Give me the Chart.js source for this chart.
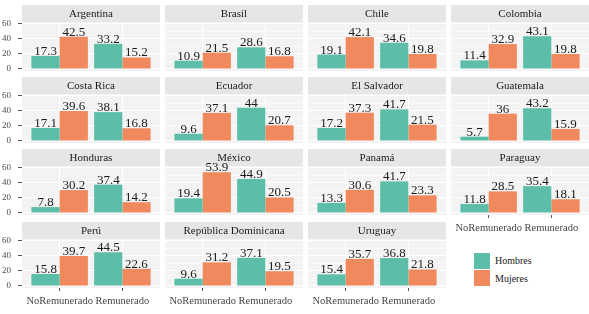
<!DOCTYPE html>
<html>
<head>
<meta charset="utf-8">
<script src="https://cdn.jsdelivr.net/npm/chart.js@4.4.1/dist/chart.umd.min.js"></script>
<style>
  body { margin: 0; background: #fff; }
  #wrap { position: relative; width: 589px; height: 314px; overflow: hidden; }
  canvas { position: absolute; }
  .key { position: absolute; left: 474px; width: 16px; height: 16px; }
  .lab { position: absolute; left: 495px; font: 10px "Liberation Serif", "DejaVu Serif", serif; color: #1a1a1a; }
</style>
</head>
<body>
<div id="wrap">
  <div class="key" style="top:253px;background:#5cbea9"></div>
  <div class="key" style="top:270px;background:#f0895e"></div>
  <div class="lab" style="top:255px">Hombres</div>
  <div class="lab" style="top:273px">Mujeres</div>
</div>
<script>
const categories = ["NoRemunerado", "Remunerado"];
const countries = ["Argentina", "Brasil", "Chile", "Colombia", "Costa Rica", "Ecuador",
  "El Salvador", "Guatemala", "Honduras", "México", "Panamá", "Paraguay",
  "Perú", "República Dominicana", "Uruguay"];
const hombresNoRem = [17.3, 10.9, 19.1, 11.4, 17.1, 9.6, 17.2, 5.7, 7.8, 19.4, 13.3, 11.8, 15.8, 9.6, 15.4];
const hombresRem   = [33.2, 28.6, 34.6, 43.1, 38.1, 44, 41.7, 43.2, 37.4, 44.9, 41.7, 35.4, 44.5, 37.1, 36.8];
const mujeresNoRem = [42.5, 21.5, 42.1, 32.9, 39.6, 37.1, 37.3, 36, 30.2, 53.9, 30.6, 28.5, 39.7, 31.2, 35.7];
const mujeresRem   = [15.2, 16.8, 19.8, 19.8, 16.8, 20.7, 21.5, 15.9, 14.2, 20.5, 23.3, 18.1, 22.6, 19.5, 21.8];
const seriesNames = ["Hombres", "Mujeres"];

const serif = '"Liberation Serif", "DejaVu Serif", serif';
const stripTops = [5, 77, 149, 222];
const bottomPanels = [11, 12, 13, 14];

// panel background + strip with country name
const stripPlugin = {
  id: "strip",
  beforeDraw(chart, args, opts) {
    const { ctx, chartArea: a } = chart;
    ctx.save();
    ctx.fillStyle = "#f3f3f3";
    ctx.fillRect(a.left, a.top, a.right - a.left, a.bottom - a.top);
    ctx.fillStyle = "#e6e6e6";
    ctx.fillRect(a.left, 0, a.right - a.left, a.top);
    ctx.fillStyle = "#1a1a1a";
    ctx.font = "11px " + serif;
    ctx.textAlign = "center";
    ctx.textBaseline = "middle";
    ctx.fillText(opts.title, (a.left + a.right) / 2, a.top / 2 + 0.5);
    ctx.restore();
  },
};

const valuePlugin = {
  id: "values",
  afterDatasetsDraw(chart) {
    const { ctx } = chart;
    ctx.save();
    ctx.font = "13px " + serif;
    ctx.fillStyle = "#1a1a1a";
    ctx.textAlign = "center";
    ctx.textBaseline = "alphabetic";
    chart.data.datasets.forEach((ds, i) => {
      chart.getDatasetMeta(i).data.forEach((bar, j) => {
        ctx.fillText(String(ds.data[j].y), bar.x, bar.y - 1);
      });
    });
    ctx.restore();
  },
};

const wrap = document.getElementById("wrap");

countries.forEach((name, i) => {
  const col = i % 4;
  const row = Math.floor(i / 4);
  const hasY = col === 0;
  const hasX = bottomPanels.includes(i);
  const left = hasY ? 0 : 22 + 143 * col;
  const width = hasY ? 160 : 138;
  const height = 66 + (hasX ? 24 : 0);

  const canvas = document.createElement("canvas");
  canvas.width = width;
  canvas.height = height;
  canvas.style.left = left + "px";
  canvas.style.top = stripTops[row] + "px";
  wrap.appendChild(canvas);

  const h = [hombresNoRem[i], hombresRem[i]];
  const m = [mujeresNoRem[i], mujeresRem[i]];

  new Chart(canvas.getContext("2d"), {
    type: "bar",
    data: {
      datasets: [
        { label: seriesNames[0], data: h.map((v, k) => ({ x: k + 1, y: v })), backgroundColor: "#5cbea9" },
        { label: seriesNames[1], data: m.map((v, k) => ({ x: k + 1, y: v })), backgroundColor: "#f0895e" },
      ],
    },
    options: {
      responsive: false,
      animation: false,
      categoryPercentage: 0.9,
      barPercentage: 1,
      layout: { padding: { top: 17, left: 0, right: 0, bottom: 0 } },
      plugins: {
        legend: { display: false },
        tooltip: { enabled: false },
        strip: { title: name },
      },
      scales: {
        x: {
          type: "linear",
          min: 0.4,
          max: 2.6,
          offset: false,
          afterBuildTicks(scale) {
            scale.ticks = categories.map((c, k) => ({ value: k + 1 }));
          },
          afterFit(scale) {
            scale.height = hasX ? 24 : 0;
            scale.paddingLeft = 0;
            scale.paddingRight = 0;
          },
          border: { display: false },
          grid: {
            offset: false,
            color: "#ffffff",
            lineWidth: 1,
            drawTicks: hasX,
            tickLength: 3,
            tickColor: "#555",
          },
          ticks: {
            display: hasX,
            padding: 4,
            color: "#444",
            font: { family: serif, size: 10.5 },
            maxRotation: 0,
            autoSkip: false,
            callback: (v) => categories[v - 1],
          },
        },
        y: {
          min: -2.64,
          max: 62,
          afterFit(scale) {
            scale.width = hasY ? 22 : 0;
            scale.paddingTop = 0;
            scale.paddingBottom = 0;
          },
          border: { display: false },
          grid: {
            color: "#ffffff",
            lineWidth: (c) => (c.tick && c.tick.value % 20 ? 0.5 : 1),
            drawTicks: hasY,
            tickLength: 4,
            tickWidth: 1,
            tickColor: (c) => (c.tick && c.tick.value % 20 ? "rgba(0,0,0,0)" : "#555"),
          },
          ticks: {
            display: hasY,
            stepSize: 10,
            includeBounds: false,
            padding: 7,
            color: "#4d4d4d",
            font: { family: serif, size: 9 },
            callback: (v) => (v % 20 ? "" : v),
          },
        },
      },
    },
    plugins: [stripPlugin, valuePlugin],
  });
});
</script>
</body>
</html>
